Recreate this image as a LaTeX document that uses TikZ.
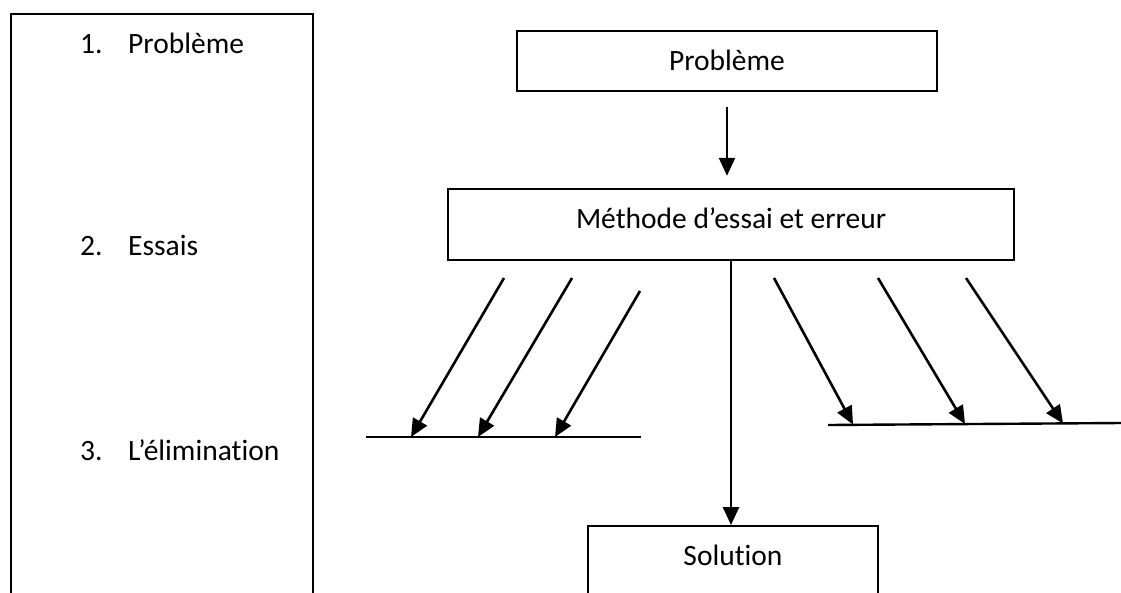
\documentclass[tikz,border=0pt]{standalone}
\usepackage{fontspec}
\setmainfont[RawFeature=-liga]{Carlito}
\usetikzlibrary{arrows.meta,calc}
\begin{document}
\begin{tikzpicture}[x=1pt,y=-1pt,
  every node/.style={font=\fontsize{29.5}{35}\selectfont, inner sep=0pt},
  boxed/.style={draw, line width=2.4pt},
  arr/.style={line width=2.6pt, -{Triangle[length=18pt,width=16pt]}},
  plain/.style={line width=2.4pt}]
\useasboundingbox (0,0) rectangle (1121,592);
\clip (0,0) rectangle (1121,592);
\fill[white] (0,0) rectangle (1121,592);
% left frame
\node[boxed, minimum width=302pt, minimum height=640pt, anchor=north west] (frame) at (10,13) {};
\node[anchor=base west] (n1) at (80,53) {1.};
\node[anchor=base west] (t1) at (128,53) {Problème};
\node[anchor=base west] (n2) at (80,255) {2.};
\node[anchor=base west] (t2) at (128,255) {Essais};
\node[anchor=base west] (n3) at (80,460) {3.};
\node[anchor=base west] (t3) at (128,460) {L’élimination};
% main flow
\node[boxed, minimum width=420pt, minimum height=60pt] (prob) at (727,61) {};
\node[anchor=base] (probtext) at (727,70) {Problème};
\node[boxed, minimum width=566pt, minimum height=71pt] (meth) at (731,224.5) {};
\node[anchor=base] (methtext) at (731,228) {Méthode d’essai et erreur};
\node[boxed, minimum width=290pt, minimum height=140pt, anchor=north] (sol) at (733,525) {};
\node[anchor=base] (soltext) at (733,565) {Solution};
\draw[arr, shorten <=15pt, shorten >=12pt] (prob.south) -- (prob.south |- meth.north);
\draw[arr] (meth.south) -- (meth.south |- sol.north);
% left branch
\coordinate (ll1) at (366,437);
\coordinate (ll2) at (641,437);
\draw[plain] (ll1) -- (ll2);
\coordinate (la1) at (504,278); \coordinate (lb1) at (411,437);
\coordinate (la2) at (572,278); \coordinate (lb2) at (478,437);
\coordinate (la3) at (640,291); \coordinate (lb3) at (555,437);
\draw[arr] (la1) -- (lb1);
\draw[arr] (la2) -- (lb2);
\draw[arr] (la3) -- (lb3);
% right branch
\coordinate (rl1) at (828,425);
\coordinate (rl2) at (1121,423);
\draw[plain] (rl1) -- (rl2);
\coordinate (ra1) at (774,278); \coordinate (rb1) at (853,424.5);
\coordinate (ra2) at (878,278); \coordinate (rb2) at (965,424);
\coordinate (ra3) at (966,278); \coordinate (rb3) at (1063,423.5);
\draw[arr] (ra1) -- (rb1);
\draw[arr] (ra2) -- (rb2);
\draw[arr] (ra3) -- (rb3);
\end{tikzpicture}
\end{document}
